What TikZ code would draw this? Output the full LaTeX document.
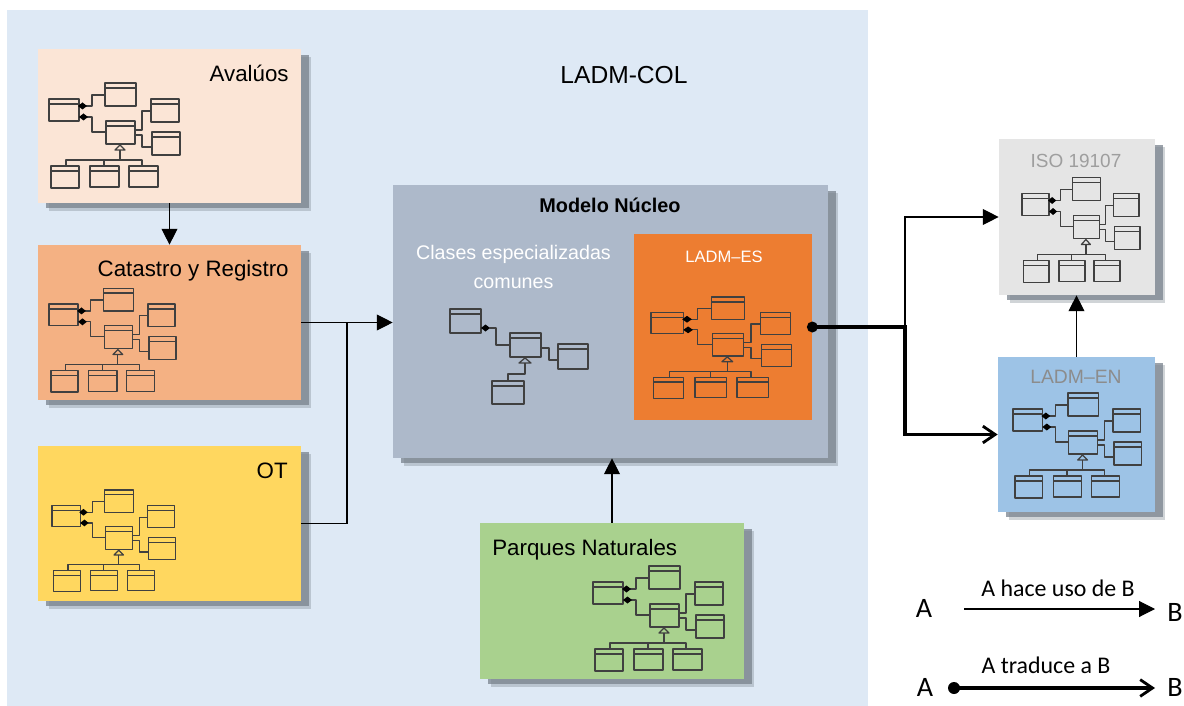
\documentclass[tikz,border=0pt]{standalone}
\usepackage{fontspec}
\usetikzlibrary{arrows.meta,shadows}
\setmainfont{Liberation Sans}
\newfontfamily\legendfont{Carlito}

\definecolor{fondo}{HTML}{DEE9F5}
\definecolor{sombra}{HTML}{79838D}

\tikzset{
  panel/.style={inner sep=0pt,
    drop shadow={shadow xshift=.21cm,shadow yshift=-.16cm,fill=sombra,opacity=.35},
    drop shadow={shadow xshift=.16cm,shadow yshift=-.11cm,fill=sombra,opacity=.75}},
  usaarrow/.style={line width=.6pt,-{Triangle[length=9pt,width=9pt]}},
  traarrow/.style={line width=2pt,-{Straight Barb[length=7pt,width=9.5pt,line width=1.6pt]}},
  umlline/.style={line width=.7pt,black!75,line join=round},
  tag/.style={inner sep=0pt,font=\fontsize{12.7}{14}\selectfont},
  legendtag/.style={inner sep=0pt,font=\legendfont\fontsize{13.6}{15}\selectfont},
  legendletter/.style={inner sep=0pt,font=\legendfont\fontsize{16}{18}\selectfont}
}

% diagrama de clases pequeno, origen en la esquina de la primera clase
\newcommand{\umlicon}[4]{
  \begin{scope}[shift={(#1,#2)},xscale=#3,yscale=#4,umlline]
    \foreach \xa/\ya/\xb/\yb in {0/0/30/22,56/-16/87/7,102/0/130/23,57/22/86/45,103/33/131/56,2/67/30/89,41/67/70/88,80/67/109/88}{
      \draw (\xa,\ya) rectangle (\xb,\yb);
      \draw (\xa,\ya+5) -- (\xb,\ya+5);
    }
    \draw (36,7) -- (43,7) -- (43,-4) -- (56,-4);
    \draw (38,18) -- (43,18) -- (43,33) -- (57,33);
    \draw (86,31) -- (93,31) -- (93,12) -- (102,12);
    \draw (86,36) -- (93,36) -- (93,48) -- (103,48);
    \fill[black] (29,7) -- (33.5,3.5) -- (38,7) -- (33.5,10.5) -- cycle;
    \fill[black] (30,18) -- (34.5,14.5) -- (39,18) -- (34.5,21.5) -- cycle;
    \draw (71,46) -- (76,51) -- (66,51) -- cycle;
    \draw (71,51) -- (71,61);
    \draw (17,67) -- (17,61) -- (93,61) -- (93,67);
    \draw (55,61) -- (55,67);
  \end{scope}
}

\begin{document}
\begin{tikzpicture}[x=.02cm,y=-.02cm]
  \useasboundingbox (0,0) rectangle (1184,706);
  \fill[fondo] (7,10) rectangle (868,706);

  \node[panel,fill={rgb,255:red,251;green,229;blue,214},minimum width=5.26cm,minimum height=3.08cm] (avaluos) at (169.5,126) {};
  \node[panel,fill={rgb,255:red,244;green,177;blue,131},minimum width=5.26cm,minimum height=3.10cm] (catastro) at (169.5,322.5) {};
  \node[panel,fill={rgb,255:red,255;green,215;blue,95},minimum width=5.26cm,minimum height=3.10cm] (ot) at (169.5,523.5) {};
  \node[panel,fill={rgb,255:red,169;green,209;blue,142},minimum width=5.28cm,minimum height=3.12cm] (parques) at (612,601) {};
  \node[panel,fill={rgb,255:red,173;green,185;blue,202},minimum width=8.70cm,minimum height=5.46cm] (nucleo) at (610.5,321.5) {};
  \node[inner sep=0pt,fill={rgb,255:red,237;green,125;blue,49},minimum width=3.56cm,minimum height=3.72cm] (ladmes) at (723,327) {};
  \node[panel,fill=black!10,minimum width=3.12cm,minimum height=3.12cm] (iso) at (1077,217) {};
  \node[panel,fill={rgb,255:red,157;green,195;blue,230},minimum width=3.14cm,minimum height=3.10cm] (ladmen) at (1076.5,434.5) {};

  \foreach \ix/\iy/\sx/\sy in {49/99/1/1,49/304/.97/.99,52/505.5/.94/.97,593/582/1/1,1022/193.5/.9/1,1013/409/.98/1,651/312.5/1.075/.965}{
    \umlicon{\ix}{\iy}{\sx}{\sy}
  }

  % clases especializadas
  \begin{scope}[umlline]
    \foreach \xa/\ya/\xb/\yb in {450/309/481/333,510/333/541/357,558/344/588/369,492/381/524/404}{
      \draw (\xa,\ya) rectangle (\xb,\yb);
      \draw (\xa,\ya+5) -- (\xb,\ya+5);
    }
    \fill[black] (481,328) -- (485.5,324.5) -- (490,328) -- (485.5,331.5) -- cycle;
    \draw (489,328) -- (496,328) -- (496,345) -- (510,345);
    \draw (541,348) -- (549,348) -- (549,360) -- (558,360);
    \draw (525,358) -- (531,363) -- (519,363) -- cycle;
    \draw (525,363) -- (525,374) -- (508,374) -- (508,381);
  \end{scope}

  \node[inner sep=0pt,font=\fontsize{14}{16}\selectfont] (titulo) at (624,75) {LADM-COL};
  \node[tag,anchor=east] (lavaluos) at (289,73) {Avalúos};
  \node[tag,anchor=east] (lcatastro) at (289,271) {Catastro y Registro};
  \node[tag,anchor=east] (lot) at (288,471) {OT};
  \node[tag,anchor=west] (lparques) at (492,550) {Parques Naturales};
  \node[inner sep=0pt,font=\bfseries\fontsize{11.3}{13}\selectfont] (lnucleo) at (610,205) {Modelo Núcleo};
  \node[inner sep=0pt,white,align=center,font=\fontsize{11.2}{16}\selectfont] (lclases) at (513.5,267) {Clases especializadas\\comunes};
  \node[inner sep=0pt,white,font=\fontsize{9.4}{11}\selectfont] (lladmes) at (724,257) {LADM--ES};
  \node[inner sep=0pt,black!38,font=\fontsize{10.8}{13}\selectfont] (liso) at (1076,161) {ISO 19107};
  \node[inner sep=0pt,black!45,font=\fontsize{11}{13}\selectfont] (lladmen) at (1076,377) {LADM--EN};

  \draw[usaarrow] (avaluos) -- (catastro);
  \draw[usaarrow] (catastro.east) -- (nucleo.west |- catastro.east);
  \draw[line width=.6pt] (ot.east) -| (347,323);
  \draw[usaarrow] (parques.north) -- (nucleo.south -| parques.north);
  \coordinate (cruce) at (905,327);
  \draw[usaarrow] (cruce) |- (iso.west);
  \draw[traarrow] (ladmes.east) -- (cruce) |- (ladmen.west);
  \fill (ladmes.east) circle (5.5);
  \draw[usaarrow] (ladmen.north) -- (ladmen.north |- iso.south);

  % leyenda
  \node[legendletter] (aa) at (924,608) {A};
  \node[legendletter] (ab) at (1175,612) {B};
  \node[legendletter] (ta) at (925,687) {A};
  \node[legendletter] (tb) at (1175,687) {B};
  \node[legendtag] (lusa) at (1058,588) {A hace uso de B};
  \node[legendtag] (ltra) at (1046,665) {A traduce a B};
  \coordinate (usaini) at (964,609);
  \coordinate (usafin) at (1155,609);
  \coordinate (traini) at (954,688);
  \coordinate (trafin) at (1155,688);
  \draw[usaarrow] (usaini) -- (usafin);
  \draw[traarrow] (traini) -- (trafin);
  \fill (traini) circle (6);
\end{tikzpicture}
\end{document}
